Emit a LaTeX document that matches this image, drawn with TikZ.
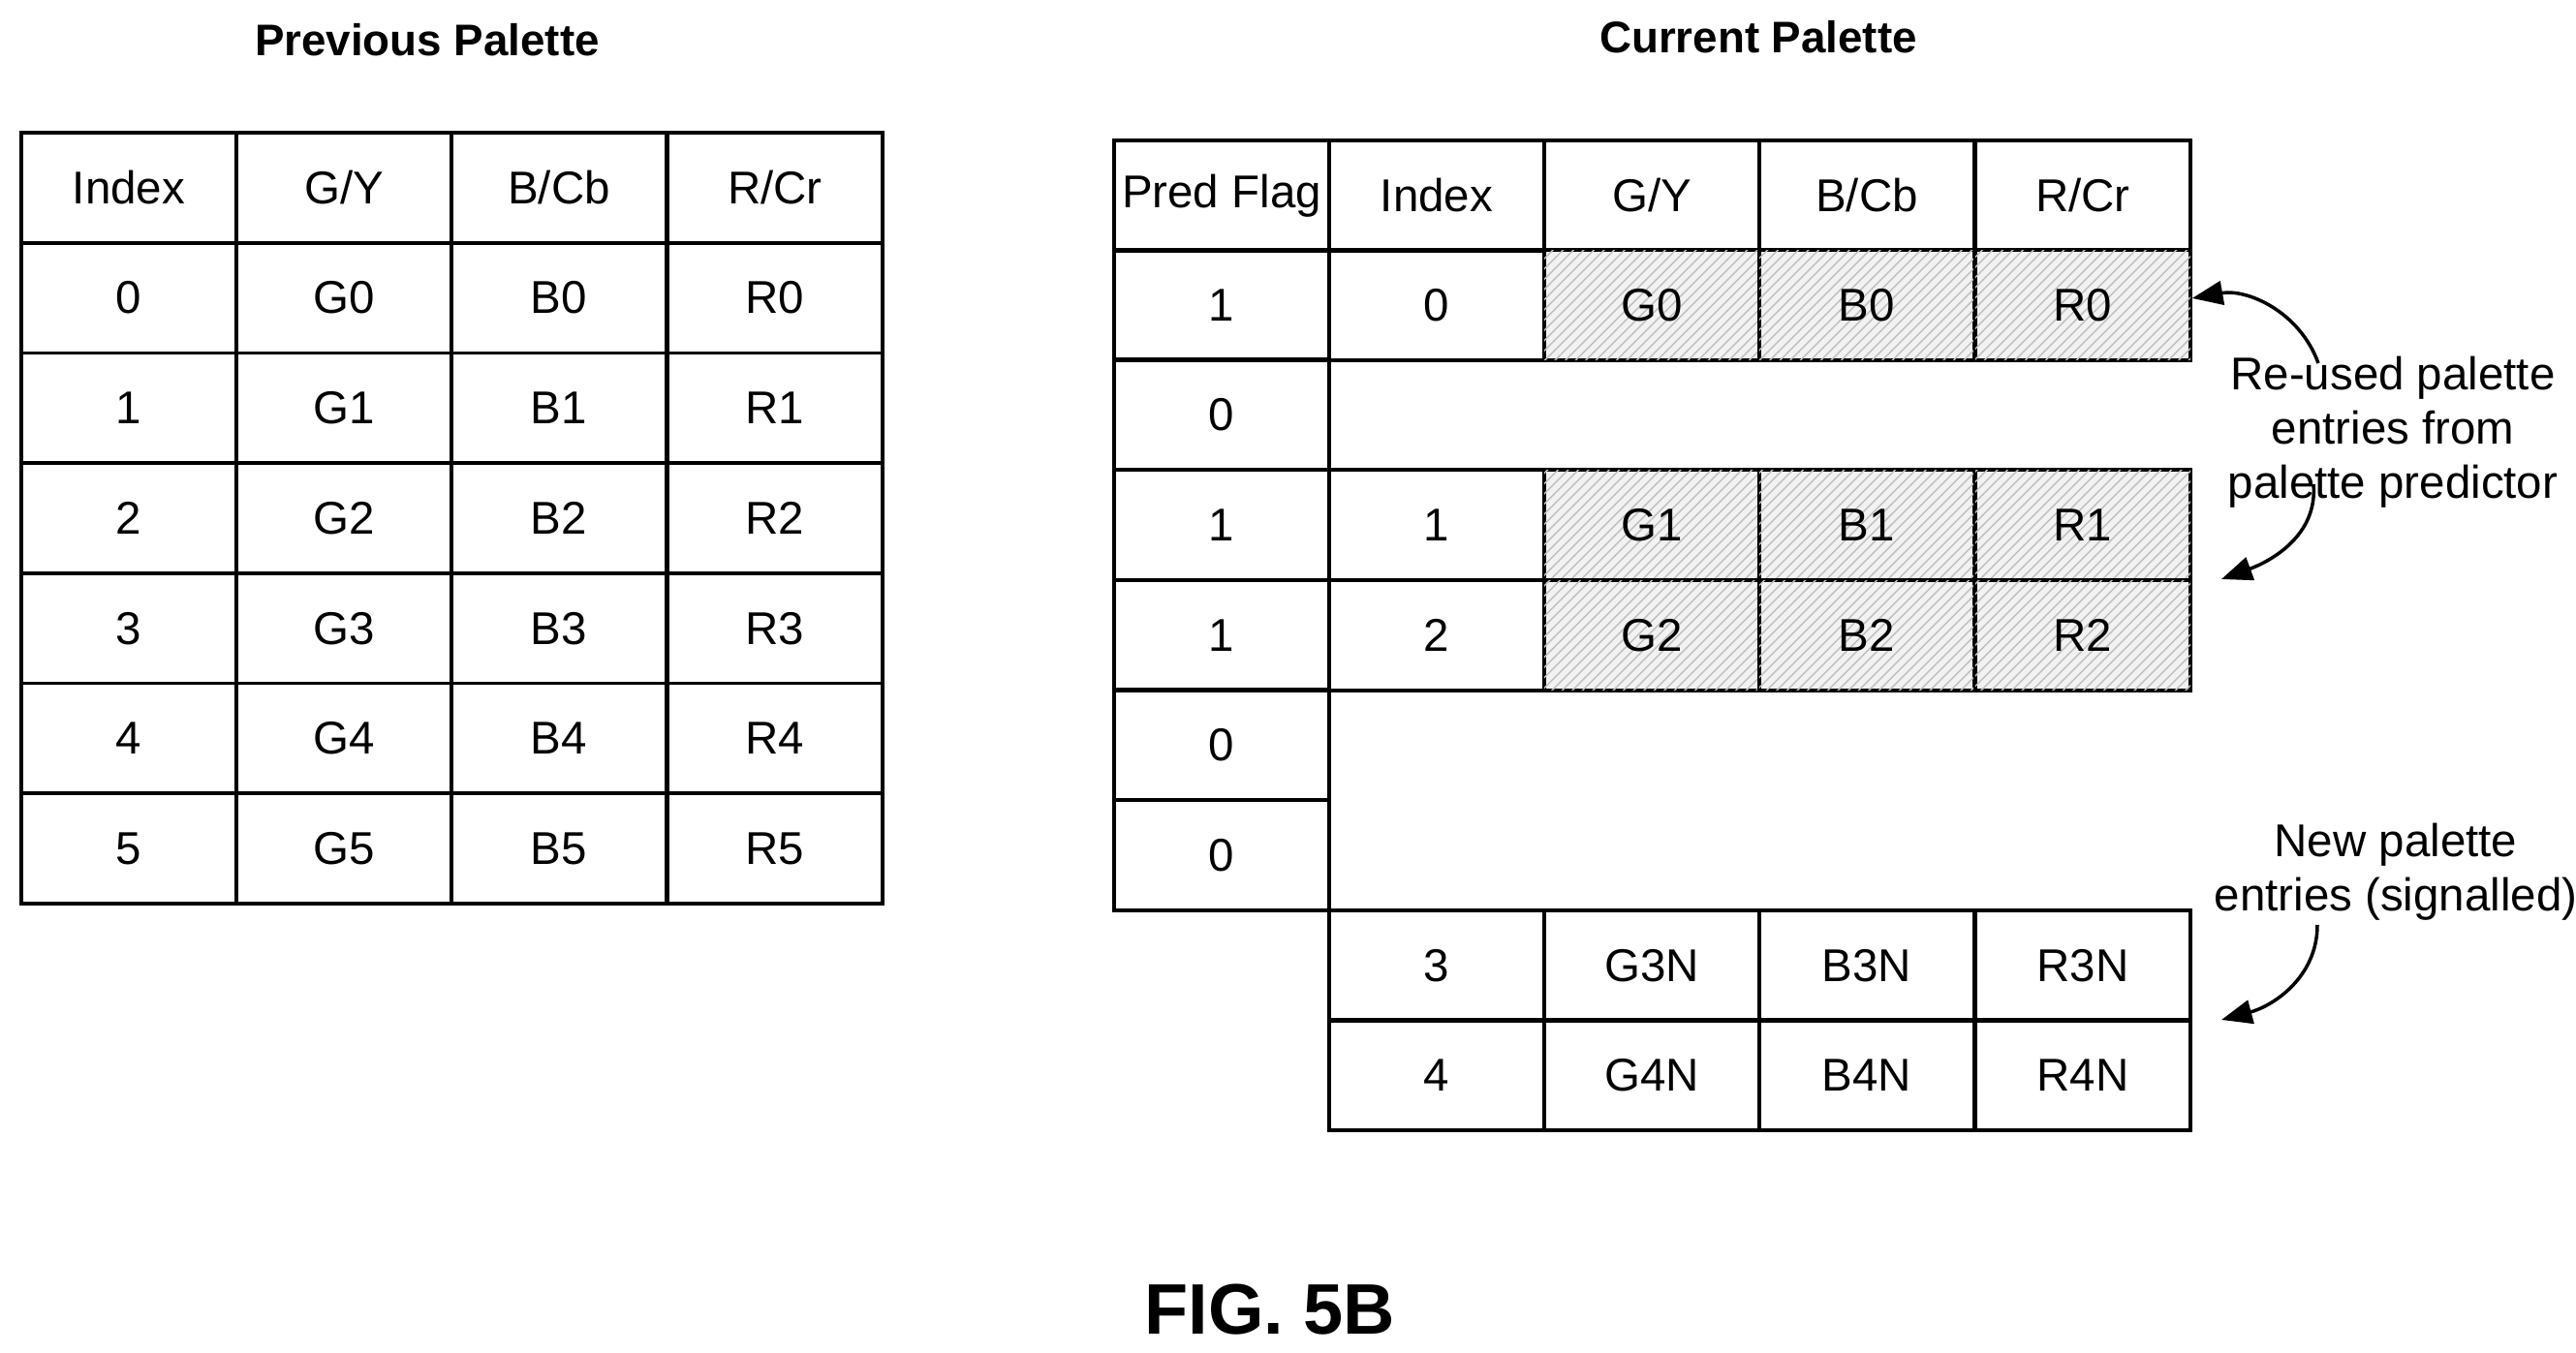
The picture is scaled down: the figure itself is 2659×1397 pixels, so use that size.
\documentclass[tikz,border=0pt]{standalone}
\usepackage{fontspec}
\setmainfont{Liberation Sans}
\usetikzlibrary{patterns,arrows.meta}
\begin{document}
\begin{tikzpicture}[x=0.01cm,y=-0.01cm,
 cell/.style={draw,line width=1pt,minimum width=2.22cm,minimum height=1.135cm,inner sep=0,font=\fontsize{13.5}{16}\selectfont},
 hat/.style={cell,fill=gray!10,postaction={pattern=north east lines,pattern color=gray!50}},
 lab/.style={font=\fontsize{13.5}{16}\selectfont,align=center},
 ttl/.style={font=\bfseries\fontsize{13}{16}\selectfont},
 arr/.style={line width=1pt,-{Triangle[length=9pt,width=7pt]}}]
\useasboundingbox (0,0) rectangle (2659,1397);
\node[ttl] (t1) at (441,41) {Previous Palette};
\node[ttl] (t2) at (1815,38) {Current Palette};
% left table
\foreach \r/\a/\b/\c/\d [count=\i from 0] in {Index/G\slash Y/B\slash Cb/R\slash Cr,0/G0/B0/R0,1/G1/B1/R1,2/G2/B2/R2,3/G3/B3/R3,4/G4/B4/R4,5/G5/B5/R5}{
 \pgfmathsetmacro\yy{137+56.9+113.7*\i}
 \node[cell] (L\i a) at (133,\yy) {\r};
 \node[cell] (L\i b) at (355,\yy) {\a};
 \node[cell] (L\i c) at (577,\yy) {\b};
 \node[cell] (L\i d) at (800,\yy) {\c};
}
% right table
\def\cw{1261}\def\cx{1483}\def\cy{1705}\def\cz{1927}\def\cv{2150}
\node[cell] (h0) at (\cw,202) {Pred Flag};
\node[cell] (h1) at (\cx,202) {Index};
\node[cell] (h2) at (\cy,202) {G/Y};
\node[cell] (h3) at (\cz,202) {B/Cb};
\node[cell] (h4) at (\cv,202) {R/Cr};
\node[cell] (p0) at (\cw,315) {1};
\node[cell] (i0) at (\cx,315) {0};
\node[hat] (g0) at (\cy,315) {G0};
\node[hat] (b0) at (\cz,315) {B0};
\node[hat] (r0) at (\cv,315) {R0};
\node[cell] (p1) at (\cw,428) {0};
\node[cell] (p2) at (\cw,542) {1};
\node[cell] (i1) at (\cx,542) {1};
\node[hat] (g1) at (\cy,542) {G1};
\node[hat] (b1) at (\cz,542) {B1};
\node[hat] (r1) at (\cv,542) {R1};
\node[cell] (p3) at (\cw,656) {1};
\node[cell] (i2) at (\cx,656) {2};
\node[hat] (g2) at (\cy,656) {G2};
\node[hat] (b2) at (\cz,656) {B2};
\node[hat] (r2) at (\cv,656) {R2};
\node[cell] (p4) at (\cw,769) {0};
\node[cell] (p5) at (\cw,883) {0};
\node[cell] (i3) at (\cx,997) {3};
\node[cell] (g3) at (\cy,997) {G3N};
\node[cell] (b3) at (\cz,997) {B3N};
\node[cell] (r3) at (\cv,997) {R3N};
\node[cell] (i4) at (\cx,1110) {4};
\node[cell] (g4) at (\cy,1110) {G4N};
\node[cell] (b4) at (\cz,1110) {B4N};
\node[cell] (r4) at (\cv,1110) {R4N};
\node[lab] (reuse) at (2470,446) {Re-used palette\\entries from\\palette predictor};
\node[lab] (new) at (2473,900) {New palette\\entries (signalled)};
\coordinate (a1s) at (2393,375);
\coordinate (a2s) at (2388,500);
\coordinate (a3s) at (2392,955);
\draw[arr] (a1s) to[out=110,in=10] ([yshift=2pt]r0.east);
\draw[arr] (a2s) to[out=-85,in=20] (2293,598);
\draw[arr] (a3s) to[out=-90,in=15] (2293,1053);
\node[font=\bfseries\fontsize{21}{24}\selectfont] (fig) at (1311,1352) {FIG. 5B};
\end{tikzpicture}
\end{document}
